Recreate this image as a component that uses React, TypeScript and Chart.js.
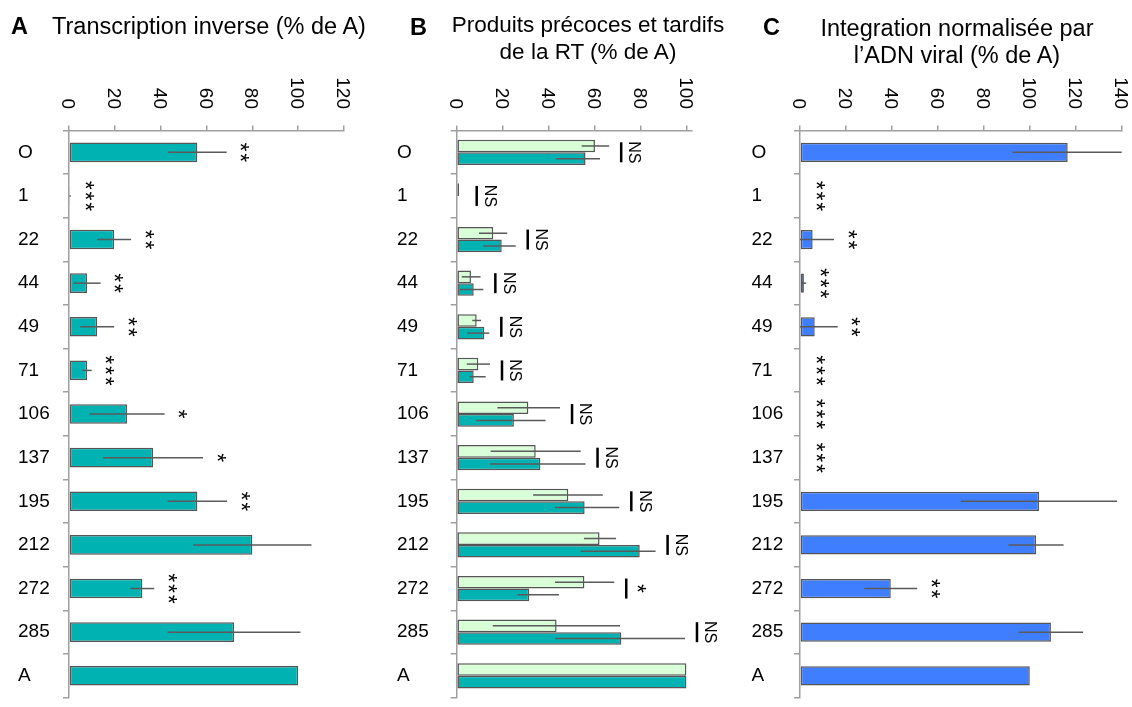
import React, { useEffect, useRef } from 'react';
import { Chart, registerables } from 'chart.js';

Chart.register(...registerables);

const FONT = '"Liberation Sans", Arial, sans-serif';
const AXIS = '#a0a0a0';
const ERR = '#5a5a5a';
const EDGE = '#555555';

// mutants / categories (shared by the three panels)
const categories = ['O', '1', '22', '44', '49', '71', '106', '137', '195', '212', '272', '285', 'A'];

// A - Transcription inverse (% de A)
const rtValues = [56, 0.5, 19.7, 7.9, 12.3, 7.9, 25.3, 36.7, 56, 80, 32, 72, 100];
const rtErrors = [12.8, 0.3, 7.4, 5.9, 7.4, 2.0, 16.4, 21.8, 13, 25.8, 5.2, 29, 0];
const rtSignif = ['**', '***', '**', '**', '**', '***', '*', '*', '**', '', '***', '', ''];
const rtTicks = [0, 20, 40, 60, 80, 100, 120];

// B - Produits précoces (clair) et tardifs (foncé) de la RT
const earlyValues = [60.2, 1, 15.9, 6.2, 8.7, 9.4, 31.2, 34.4, 48.6, 62.2, 55.6, 43.5, 100];
const earlyLow = [54.4, 1, 9.7, 2.2, 6.8, 4.4, 17.7, 14.8, 33.3, 55.4, 42.8, 15.7, 100];
const earlyHigh = [66.4, 1, 22.0, 10.4, 10.6, 14.5, 45.0, 54.0, 63.6, 69.4, 68.6, 71.1, 100];
const lateValues = [56.1, 0.3, 19.6, 7.4, 12.0, 7.4, 24.9, 36.4, 55.7, 79.7, 31.6, 71.7, 100];
const lateLow = [43.2, 0.3, 11.6, 1.4, 4.6, 5.5, 8.4, 14.5, 42.8, 54.0, 26.6, 42.8, 100];
const lateHigh = [62.4, 0.3, 25.7, 11.6, 14.2, 12.6, 38.7, 56.1, 70.8, 86.6, 44.5, 99.4, 100];
const rtProdSignif = ['NS', 'NS', 'NS', 'NS', 'NS', 'NS', 'NS', 'NS', 'NS', 'NS', '*', 'NS', ''];
const rtProdTicks = [0, 20, 40, 60, 80, 100];

// C - Integration normalisée par l'ADN viral
const integValues = [116.5, 0, 5.5, 1.7, 6.4, 0, 0, 0.3, 104, 102.7, 39.5, 109.2, 100];
const integErrors = [24, 0, 9.3, 1, 10, 0, 0, 0, 34, 12, 11.5, 14, 0];
const integSignif = ['', '***', '**', '***', '**', '***', '***', '***', '', '', '**', '', ''];
const integTicks = [0, 20, 40, 60, 80, 100, 120, 140];

const errorBars = {
  id: 'errorBars',
  afterDatasetsDraw(chart: any) {
    const { ctx } = chart;
    const x = chart.scales.x;
    ctx.save();
    ctx.strokeStyle = ERR;
    ctx.lineWidth = 1.5;
    chart.data.datasets.forEach((ds: any, di: number) => {
      const meta = chart.getDatasetMeta(di);
      meta.data.forEach((bar: any, i: number) => {
        const lo = Math.max(ds.low[i], x.min);
        const hi = Math.min(ds.high[i], x.max);
        if (hi - lo < 0.5) return;
        ctx.beginPath();
        ctx.moveTo(x.getPixelForValue(lo), bar.y);
        ctx.lineTo(x.getPixelForValue(hi), bar.y);
        ctx.stroke();
      });
    });
    ctx.restore();
  },
};

function drawStars(ctx: any, n: number, sx: number, cy: number) {
  const fs = 23;
  ctx.font = `${fs}px ${FONT}`;
  ctx.textAlign = 'center';
  ctx.textBaseline = 'alphabetic';
  for (let k = 0; k < n; k++) {
    const sy = cy + (k - (n - 1) / 2) * 10.8;
    ctx.save();
    ctx.translate(sx, sy);
    ctx.rotate(Math.PI / 2);
    ctx.fillText('*', 0, 0.58 * fs);
    ctx.restore();
  }
}

const annotations = {
  id: 'annot',
  afterDraw(chart: any, _args: any, opts: any) {
    const { ctx } = chart;
    const x = chart.scales.x;
    const y = chart.scales.y;
    ctx.save();
    ctx.fillStyle = '#000';

    // value axis labels, rotated a quarter turn clockwise
    ctx.font = `19px ${FONT}`;
    ctx.textAlign = 'right';
    ctx.textBaseline = 'alphabetic';
    x.ticks.forEach((t: any) => {
      ctx.save();
      ctx.translate(x.getPixelForValue(t.value), opts.tickEnd);
      ctx.rotate(Math.PI / 2);
      ctx.fillText(String(t.value), 0, 0.36 * 19);
      ctx.restore();
    });

    // significance marks
    const sets = chart.data.datasets;
    const zero = x.getPixelForValue(0);
    (opts.marks as string[]).forEach((m, i) => {
      if (!m) return;
      let ext = 0;
      sets.forEach((ds: any) => {
        ext = Math.max(ext, ds.data[i], ds.high[i]);
      });
      const px = x.getPixelForValue(Math.min(ext, x.max));
      const cy = y.getPixelForValue(i);
      if (opts.kind === 'star') {
        drawStars(ctx, m.length, Math.max(px + 19, zero + 21), cy);
      } else {
        const bx = Math.max(px + 12, zero + 20);
        ctx.fillRect(bx - 1.25, cy - 10, 2.5, 20);
        if (m === 'NS') {
          const fs = 16;
          ctx.font = `${fs}px ${FONT}`;
          ctx.textAlign = 'center';
          ctx.textBaseline = 'alphabetic';
          ctx.save();
          ctx.translate(bx + 14, cy);
          ctx.rotate(Math.PI / 2);
          ctx.fillText('NS', 0, 0.36 * fs);
          ctx.restore();
        } else {
          drawStars(ctx, m.length, bx + 16, cy);
        }
      }
    });
    ctx.restore();
  },
};

type Series = { data: number[]; low: number[]; high: number[]; color: string };

type PanelProps = {
  left: number;
  width: number;
  padLeft: number;
  axisWidth: number;
  padRight: number;
  max: number;
  tickValues: number[];
  series: Series[];
  barFraction: number;
  marks: string[];
  kind: 'star' | 'ns';
};

const HEIGHT = 712;

function Panel(props: PanelProps) {
  const chartRef = useRef<HTMLCanvasElement>(null);
  const chartInstance = useRef<Chart | null>(null);

  useEffect(() => {
    if (!chartRef.current) return;
    if (chartInstance.current) chartInstance.current.destroy();

    chartInstance.current = new Chart(chartRef.current, {
      type: 'bar',
      data: {
        labels: categories,
        datasets: props.series.map(s => ({
          data: s.data,
          low: s.low,
          high: s.high,
          backgroundColor: s.color,
          borderColor: EDGE,
          borderWidth: 1.5,
          borderSkipped: false,
          categoryPercentage: props.barFraction,
          barPercentage: 1,
        })) as any,
      },
      options: {
        indexAxis: 'y',
        responsive: false,
        animation: false,
        layout: { padding: { left: props.padLeft, right: props.padRight, top: 0, bottom: 3 } },
        plugins: {
          legend: { display: false },
          tooltip: { enabled: false },
          annot: { marks: props.marks, kind: props.kind, tickEnd: 109 },
        } as any,
        scales: {
          x: {
            position: 'top',
            min: 0,
            max: props.max,
            afterBuildTicks: (s: any) => {
              s.ticks = props.tickValues.map(v => ({ value: v }));
            },
            afterFit: (s: any) => {
              s.height = 130.5;
            },
            ticks: { display: false },
            grid: { drawOnChartArea: false, tickLength: 5, color: AXIS, lineWidth: 1.5 },
            border: { color: AXIS, width: 1.5 },
          },
          y: {
            afterFit: (s: any) => {
              s.width = props.axisWidth;
            },
            ticks: {
              crossAlign: 'far',
              autoSkip: false,
              color: '#000',
              font: { family: FONT, size: 19 },
            },
            grid: { offset: true, drawOnChartArea: false, tickLength: 6, color: AXIS, lineWidth: 1.5 },
            border: { color: AXIS, width: 1.5 },
          },
        },
      },
      plugins: [errorBars, annotations],
    });

    return () => {
      if (chartInstance.current) {
        chartInstance.current.destroy();
        chartInstance.current = null;
      }
    };
  }, [props]);

  return (
    <div style={{ position: 'absolute', left: props.left, top: 0, width: props.width, height: HEIGHT }}>
      <canvas ref={chartRef} width={props.width} height={HEIGHT}></canvas>
    </div>
  );
}

const titleText: React.CSSProperties = {
  position: 'absolute',
  fontFamily: FONT,
  fontSize: 23.5,
  lineHeight: '27px',
  color: '#000',
  whiteSpace: 'nowrap',
};

const plusMinus = (v: number[], e: number[], sign: number) => v.map((x, i) => x + sign * e[i]);

const panelA: PanelProps = {
  left: 0, width: 378, padLeft: 18, axisWidth: 51, padRight: 34, max: 120,
  tickValues: rtTicks,
  series: [{ data: rtValues, low: plusMinus(rtValues, rtErrors, -1), high: plusMinus(rtValues, rtErrors, 1), color: '#00B2B2' }],
  barFraction: 0.45, marks: rtSignif, kind: 'star',
};

const panelB: PanelProps = {
  left: 378, width: 342, padLeft: 19, axisWidth: 59.7, padRight: 27.9, max: 102.5,
  tickValues: rtProdTicks,
  series: [
    { data: earlyValues, low: earlyLow, high: earlyHigh, color: '#D9FFD9' },
    { data: lateValues, low: lateLow, high: lateHigh, color: '#00B2B2' },
  ],
  barFraction: 0.58, marks: rtProdSignif, kind: 'ns',
};

const panelC: PanelProps = {
  left: 720, width: 412, padLeft: 31.5, axisWidth: 48.5, padRight: 10.3, max: 140,
  tickValues: integTicks,
  series: [{ data: integValues, low: plusMinus(integValues, integErrors, -1), high: plusMinus(integValues, integErrors, 1), color: '#3F7FFF' }],
  barFraction: 0.44, marks: integSignif, kind: 'star',
};

export default function App() {
  return (
    <div style={{ position: 'fixed', left: 0, top: 0, width: 1132, height: 707, overflow: 'hidden', background: '#fff' }}>
      <Panel {...panelA} />
      <Panel {...panelB} />
      <Panel {...panelC} />

      <div style={{ ...titleText, left: 11, top: 13, fontWeight: 'bold' }}>A</div>
      <div style={{ ...titleText, left: 52, top: 13 }}>Transcription inverse (% de A)</div>

      <div style={{ ...titleText, left: 410, top: 14, fontWeight: 'bold' }}>B</div>
      <div style={{ ...titleText, fontSize: 22.5, left: 388, top: 11, width: 400, textAlign: 'center' }}>
        Produits précoces et tardifs<br />de la RT (% de A)
      </div>

      <div style={{ ...titleText, left: 763, top: 14, fontWeight: 'bold' }}>C</div>
      <div style={{ ...titleText, left: 757, top: 14.5, width: 400, textAlign: 'center' }}>
        Integration normalisée par<br />l’ADN viral (% de A)
      </div>
    </div>
  );
}
